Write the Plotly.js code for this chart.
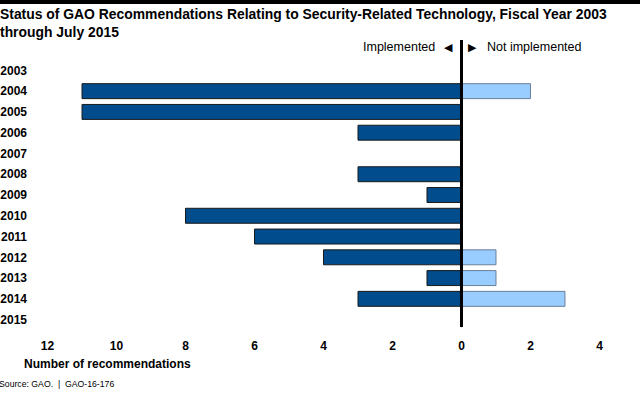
<!DOCTYPE html>
<html><head><meta charset="utf-8">
<script src="https://cdn.plot.ly/plotly-3.0.1.min.js"></script>
<style>html,body{margin:0;padding:0;background:#fff}#chart{width:640px;height:393px}</style>
</head><body><div id="chart"></div>
<script>
const years = ['2003','2004','2005','2006','2007','2008','2009','2010','2011','2012','2013','2014','2015'];
const implemented = [0,11,11,3,0,3,1,8,6,4,1,3,0];
const notImplemented = [0,2,0,0,0,0,0,0,0,1,1,3,0];
const tickVals = [-12,-10,-8,-6,-4,-2,0,2,4];
const tickText = ['12','10','8','6','4','2','0','2','4'];

const F = 'Liberation Sans, Arial, sans-serif';
const traces = [
  {type:'bar', orientation:'h', y:years, x:implemented.map(v=>-v), name:'Implemented',
   marker:{color:'#004c8c', line:{color:'#1a1a1a', width:1}}, width:0.72, hoverinfo:'skip'},
  {type:'bar', orientation:'h', y:years, x:notImplemented, name:'Not implemented',
   marker:{color:'#99ccff', line:{color:'#6a7f99', width:1}}, width:0.72, hoverinfo:'skip'}
];
const layout = {
  width:640, height:393, margin:{l:32, r:25, t:60, b:63},
  paper_bgcolor:'#fff', plot_bgcolor:'#fff', showlegend:false, barmode:'overlay',
  font:{family:F, color:'#000'},
  xaxis:{range:[-12.45,4.45], tickvals:tickVals, ticktext:tickText, showgrid:false, zeroline:false,
    showline:false, ticks:'', ticklabelstandoff:7, tickfont:{size:12, family:F, weight:'bold'}, fixedrange:true},
  yaxis:{type:'category', categoryorder:'array', categoryarray:years, autorange:'reversed', range:[12.5,-0.5],
    showgrid:false, zeroline:false, showline:false, ticks:'', ticklabelstandoff:4,
    tickfont:{size:12, family:F, weight:'bold'}, fixedrange:true},
  shapes:[
    {type:'line', xref:'x', yref:'paper', x0:0, x1:0, y0:0.011, y1:1.074, line:{color:'#000', width:3}},
    {type:'rect', xref:'paper', yref:'paper', x0:-0.06, x1:1.05, y0:1.207, y1:1.23, fillcolor:'#000', line:{width:0}}
  ],
  annotations:[
    {xref:'paper', yref:'paper', x:-0.058, y:1.207, xanchor:'left', yanchor:'top', align:'left', showarrow:false,
     text:'<b>Status of GAO Recommendations Relating to Security-Related Technology, Fiscal Year 2003<br>through July 2015</b>',
     font:{size:13.9, family:F, color:'#000'}},
    {xref:'x', yref:'paper', x:-0.696, y:1.048, xanchor:'right', yanchor:'middle', showarrow:false,
     text:'Implemented', font:{size:12.5, family:F, color:'#000'}},
    {xref:'x', yref:'paper', x:-0.377, y:1.048, xanchor:'center', yanchor:'middle', showarrow:false,
     text:'\u25C0', font:{size:11, family:'DejaVu Sans', color:'#000'}},
    {xref:'x', yref:'paper', x:0.319, y:1.048, xanchor:'center', yanchor:'middle', showarrow:false,
     text:'\u25B6', font:{size:11, family:'DejaVu Sans', color:'#000'}},
    {xref:'x', yref:'paper', x:0.667, y:1.048, xanchor:'left', yanchor:'middle', showarrow:false,
     text:'Not implemented', font:{size:12.5, family:F, color:'#000'}},
    {xref:'paper', yref:'paper', x:-0.017, y:-0.125, xanchor:'left', yanchor:'middle', showarrow:false,
     text:'<b>Number of recommendations</b>', font:{size:12, family:F, color:'#000'}},
    {xref:'paper', yref:'paper', x:-0.06, y:-0.2, xanchor:'left', yanchor:'middle', showarrow:false,
     text:'Source: GAO.&nbsp; |&nbsp; GAO-16-176', font:{size:8.7, family:F, color:'#000'}}
  ]
};
Plotly.newPlot('chart', traces, layout, {displayModeBar:false, staticPlot:true});
</script></body></html>
